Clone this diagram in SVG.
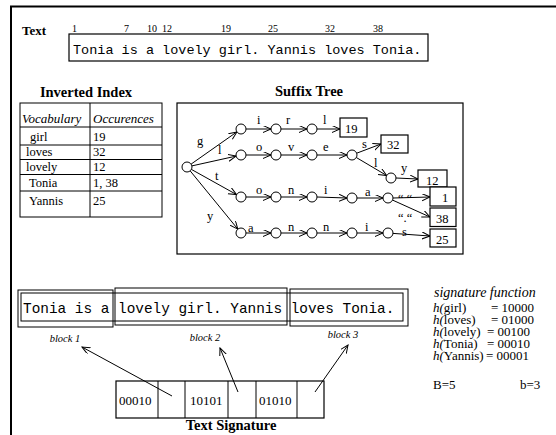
<svg xmlns="http://www.w3.org/2000/svg" width="556" height="435" viewBox="0 0 556 435">
<defs>
<marker id="ah" markerWidth="9" markerHeight="8" refX="8" refY="3.5" orient="auto" markerUnits="userSpaceOnUse">
<path d="M0,0 L8,3.5 L0,7" fill="none" stroke="#000" stroke-width="1"/>
</marker>
</defs>
<style>
.t{font-family:"Liberation Serif","Times New Roman",serif;fill:#000}
.b{font-weight:bold;font-size:14px}
.m{font-family:"Liberation Mono","Courier New",monospace;fill:#000}
.i{font-style:italic}
.ln{stroke:#000;stroke-width:1;fill:none}
.bx{stroke:#000;stroke-width:1.2;fill:#fff}
.nd{stroke:#000;stroke-width:1;fill:#fff}
.e{stroke:#000;stroke-width:1;fill:none;marker-end:url(#ah)}
.lb{font-family:"Liberation Serif","Times New Roman",serif;font-size:12.5px;fill:#000}
</style>
<rect width="556" height="435" fill="#fff"/>
<g id="frame">
<path d="M11,435 V6.5 H556" fill="none" stroke="#000" stroke-width="2"/>
</g>

<g id="text-section">
<text class="t b" x="22" y="35" style="font-size:13px">Text</text>
<g class="t" style="font-size:10px">
<text x="72" y="32">1</text>
<text x="124" y="32">7</text>
<text x="147" y="32">10</text>
<text x="162" y="32">12</text>
<text x="221" y="32">19</text>
<text x="268" y="32">25</text>
<text x="325" y="32">32</text>
<text x="373" y="32">38</text>
</g>
<rect x="69" y="34" width="359" height="27" class="ln" style="stroke-width:1.2"/>
<text class="m" x="73" y="54" style="font-size:13.5px">Tonia is a lovely girl. Yannis loves Tonia.</text>
</g>

<g id="inverted-index">
<text class="t b" x="86" y="97" text-anchor="middle" style="font-size:14.5px">Inverted Index</text>
<rect x="20" y="103" width="142" height="114" class="ln"/>
<path class="ln" d="M90,103 V217 M20,127 H162 M20,145 H162 M20,159.5 H162 M20,174.5 H162 M20,191 H162"/>
<g class="t" style="font-size:13px">
<text class="i" x="22" y="123">Vocabulary</text>
<text class="i" x="93" y="123">Occurences</text>
</g>
<g class="t" style="font-size:12.5px">
<text x="30" y="141">girl</text><text x="93" y="141">19</text>
<text x="26" y="156">loves</text><text x="93" y="156">32</text>
<text x="26" y="171">lovely</text><text x="93" y="171">12</text>
<text x="29" y="187">Tonia</text><text x="93" y="187">1, 38</text>
<text x="29" y="205">Yannis</text><text x="93" y="205">25</text>
</g>
</g>

<g id="suffix-tree">
<text class="t b" x="309" y="96" text-anchor="middle" style="font-size:14.5px">Suffix Tree</text>
<rect x="177" y="103" width="286" height="151" class="ln" style="stroke-width:1.2"/>
<g id="connectors">
<line class="e" x1="191.1" y1="164.1" x2="236.9" y2="131.9"/>
<line class="e" x1="191.9" y1="165.9" x2="236.1" y2="156.1"/>
<line class="e" x1="191.4" y1="169.4" x2="236.6" y2="194.6"/>
<line class="e" x1="190.2" y1="170.9" x2="237.8" y2="229.1"/>
<line class="e" x1="246" y1="129" x2="271" y2="129"/>
<line class="e" x1="281" y1="129" x2="307" y2="129"/>
<line class="e" x1="317" y1="129" x2="340" y2="129"/>
<line class="e" x1="246" y1="155" x2="271" y2="155"/>
<line class="e" x1="281" y1="155" x2="307" y2="155"/>
<line class="e" x1="317" y1="155" x2="347" y2="155"/>
<line class="e" x1="356.7" y1="153.2" x2="381" y2="144"/>
<line class="e" x1="356.3" y1="157.5" x2="386.7" y2="175.5"/>
<line class="e" x1="396" y1="178" x2="418" y2="179"/>
<line class="e" x1="246" y1="197" x2="271" y2="197"/>
<line class="e" x1="281" y1="197" x2="307" y2="197"/>
<line class="e" x1="317" y1="197" x2="347" y2="198"/>
<line class="e" x1="357" y1="198" x2="383" y2="198"/>
<line class="e" x1="393" y1="198" x2="430" y2="197"/>
<line class="e" x1="392.6" y1="200.1" x2="430" y2="217"/>
<line class="e" x1="246" y1="233" x2="271" y2="233"/>
<line class="e" x1="281" y1="233" x2="307" y2="233"/>
<line class="e" x1="317" y1="233" x2="347" y2="233"/>
<line class="e" x1="357" y1="233" x2="383" y2="233"/>
<line class="e" x1="393" y1="233.4" x2="430" y2="236"/>
</g>
<g id="nodes">
<circle class="nd" cx="187" cy="167" r="5"/>
<circle class="nd" cx="241" cy="129" r="5"/><circle class="nd" cx="276" cy="129" r="5"/><circle class="nd" cx="312" cy="129" r="5"/>
<circle class="nd" cx="241" cy="155" r="5"/><circle class="nd" cx="276" cy="155" r="5"/><circle class="nd" cx="312" cy="155" r="5"/><circle class="nd" cx="352" cy="155" r="5"/><circle class="nd" cx="391" cy="178" r="5"/>
<circle class="nd" cx="241" cy="197" r="5"/><circle class="nd" cx="276" cy="197" r="5"/><circle class="nd" cx="312" cy="197" r="5"/><circle class="nd" cx="352" cy="198" r="5"/><circle class="nd" cx="388" cy="198" r="5"/>
<circle class="nd" cx="241" cy="233" r="5"/><circle class="nd" cx="276" cy="233" r="5"/><circle class="nd" cx="312" cy="233" r="5"/><circle class="nd" cx="352" cy="233" r="5"/><circle class="nd" cx="388" cy="233" r="5"/>
</g>
<g id="leaves" class="t" style="font-size:12.5px">
<rect class="bx" x="340" y="118" width="27" height="19"/><text x="345" y="133">19</text>
<rect class="bx" x="381" y="135" width="27" height="18"/><text x="387" y="149">32</text>
<rect class="bx" x="418" y="170" width="29" height="17"/><text x="426" y="185">12</text>
<rect class="bx" x="430" y="187" width="26" height="19"/><text x="442" y="202">1</text>
<rect class="bx" x="430" y="208" width="26" height="18.5"/><text x="436" y="223">38</text>
<rect class="bx" x="430" y="229" width="26" height="18"/><text x="436" y="244">25</text>
</g>
<g id="edge-labels" class="lb">
<text x="197" y="145">g</text>
<text x="218" y="154">l</text>
<text x="215" y="180">t</text>
<text x="207" y="220">y</text>
<text x="257" y="124">i</text><text x="286" y="124">r</text><text x="323" y="124">l</text>
<text x="256" y="151">o</text><text x="288" y="151">v</text><text x="323" y="151">e</text>
<text x="362" y="148">s</text><text x="374" y="167">l</text><text x="401" y="172">y</text>
<text x="256" y="194">o</text><text x="288" y="194">n</text><text x="324" y="194">i</text><text x="365" y="196">a</text>
<text x="398" y="203">“ “</text><text x="398" y="222">“.“</text>
<text x="248" y="232">a</text><text x="288" y="231">n</text><text x="323" y="231">n</text><text x="365" y="231">i</text><text x="402" y="236">s</text>
</g>
</g>

<g id="blocks">
<rect x="21" y="293" width="382" height="28" class="ln"/>
<rect x="18" y="290" width="95" height="37" class="ln"/>
<rect x="115" y="288" width="172" height="37" class="ln"/>
<rect x="290" y="289" width="118" height="37" class="ln"/>
<text class="m" x="23" y="313" style="font-size:14.4px">Tonia is a lovely girl. Yannis loves Tonia.</text>
<g class="t i" style="font-size:10.5px" text-anchor="middle">
<text x="65" y="342">block 1</text>
<text x="205" y="341">block 2</text>
<text x="343" y="338">block 3</text>
</g>
</g>

<g id="signature">
<rect x="116" y="381" width="208" height="37" class="ln" style="stroke-width:1.2"/>
<path class="ln" d="M158,381 V418 M185,381 V418 M228,381 V418 M256,381 V418 M297,381 V418"/>
<g class="t" style="font-size:13px">
<text x="119" y="405">00010</text>
<text x="190" y="405">10101</text>
<text x="259" y="405">01010</text>
</g>
<text class="t b" x="231" y="430" text-anchor="middle" style="font-size:14.5px">Text Signature</text>
<line class="e" x1="172" y1="396" x2="82" y2="347"/>
<line class="e" x1="238" y1="392" x2="220" y2="348"/>
<line class="e" x1="315" y1="392" x2="348" y2="345"/>
</g>

<g id="signature-function" class="t" style="font-size:13px">
<text class="i" x="434" y="297" style="font-size:14px">signature function</text>
<text x="433" y="312"><tspan class="i">h(</tspan>girl)</text><text x="491" y="312">= 10000</text>
<text x="433" y="324"><tspan class="i">h(</tspan>loves)</text><text x="491" y="324">= 01000</text>
<text x="433" y="336"><tspan class="i">h(</tspan>lovely)</text><text x="487" y="336">= 00100</text>
<text x="433" y="348"><tspan class="i">h(</tspan>Tonia)</text><text x="487" y="348">= 00010</text>
<text x="433" y="360"><tspan class="i">h(</tspan>Yannis)</text><text x="486" y="360">= 00001</text>
<text x="433" y="389">B=5</text>
<text x="520" y="389">b=3</text>
</g>
</svg>
